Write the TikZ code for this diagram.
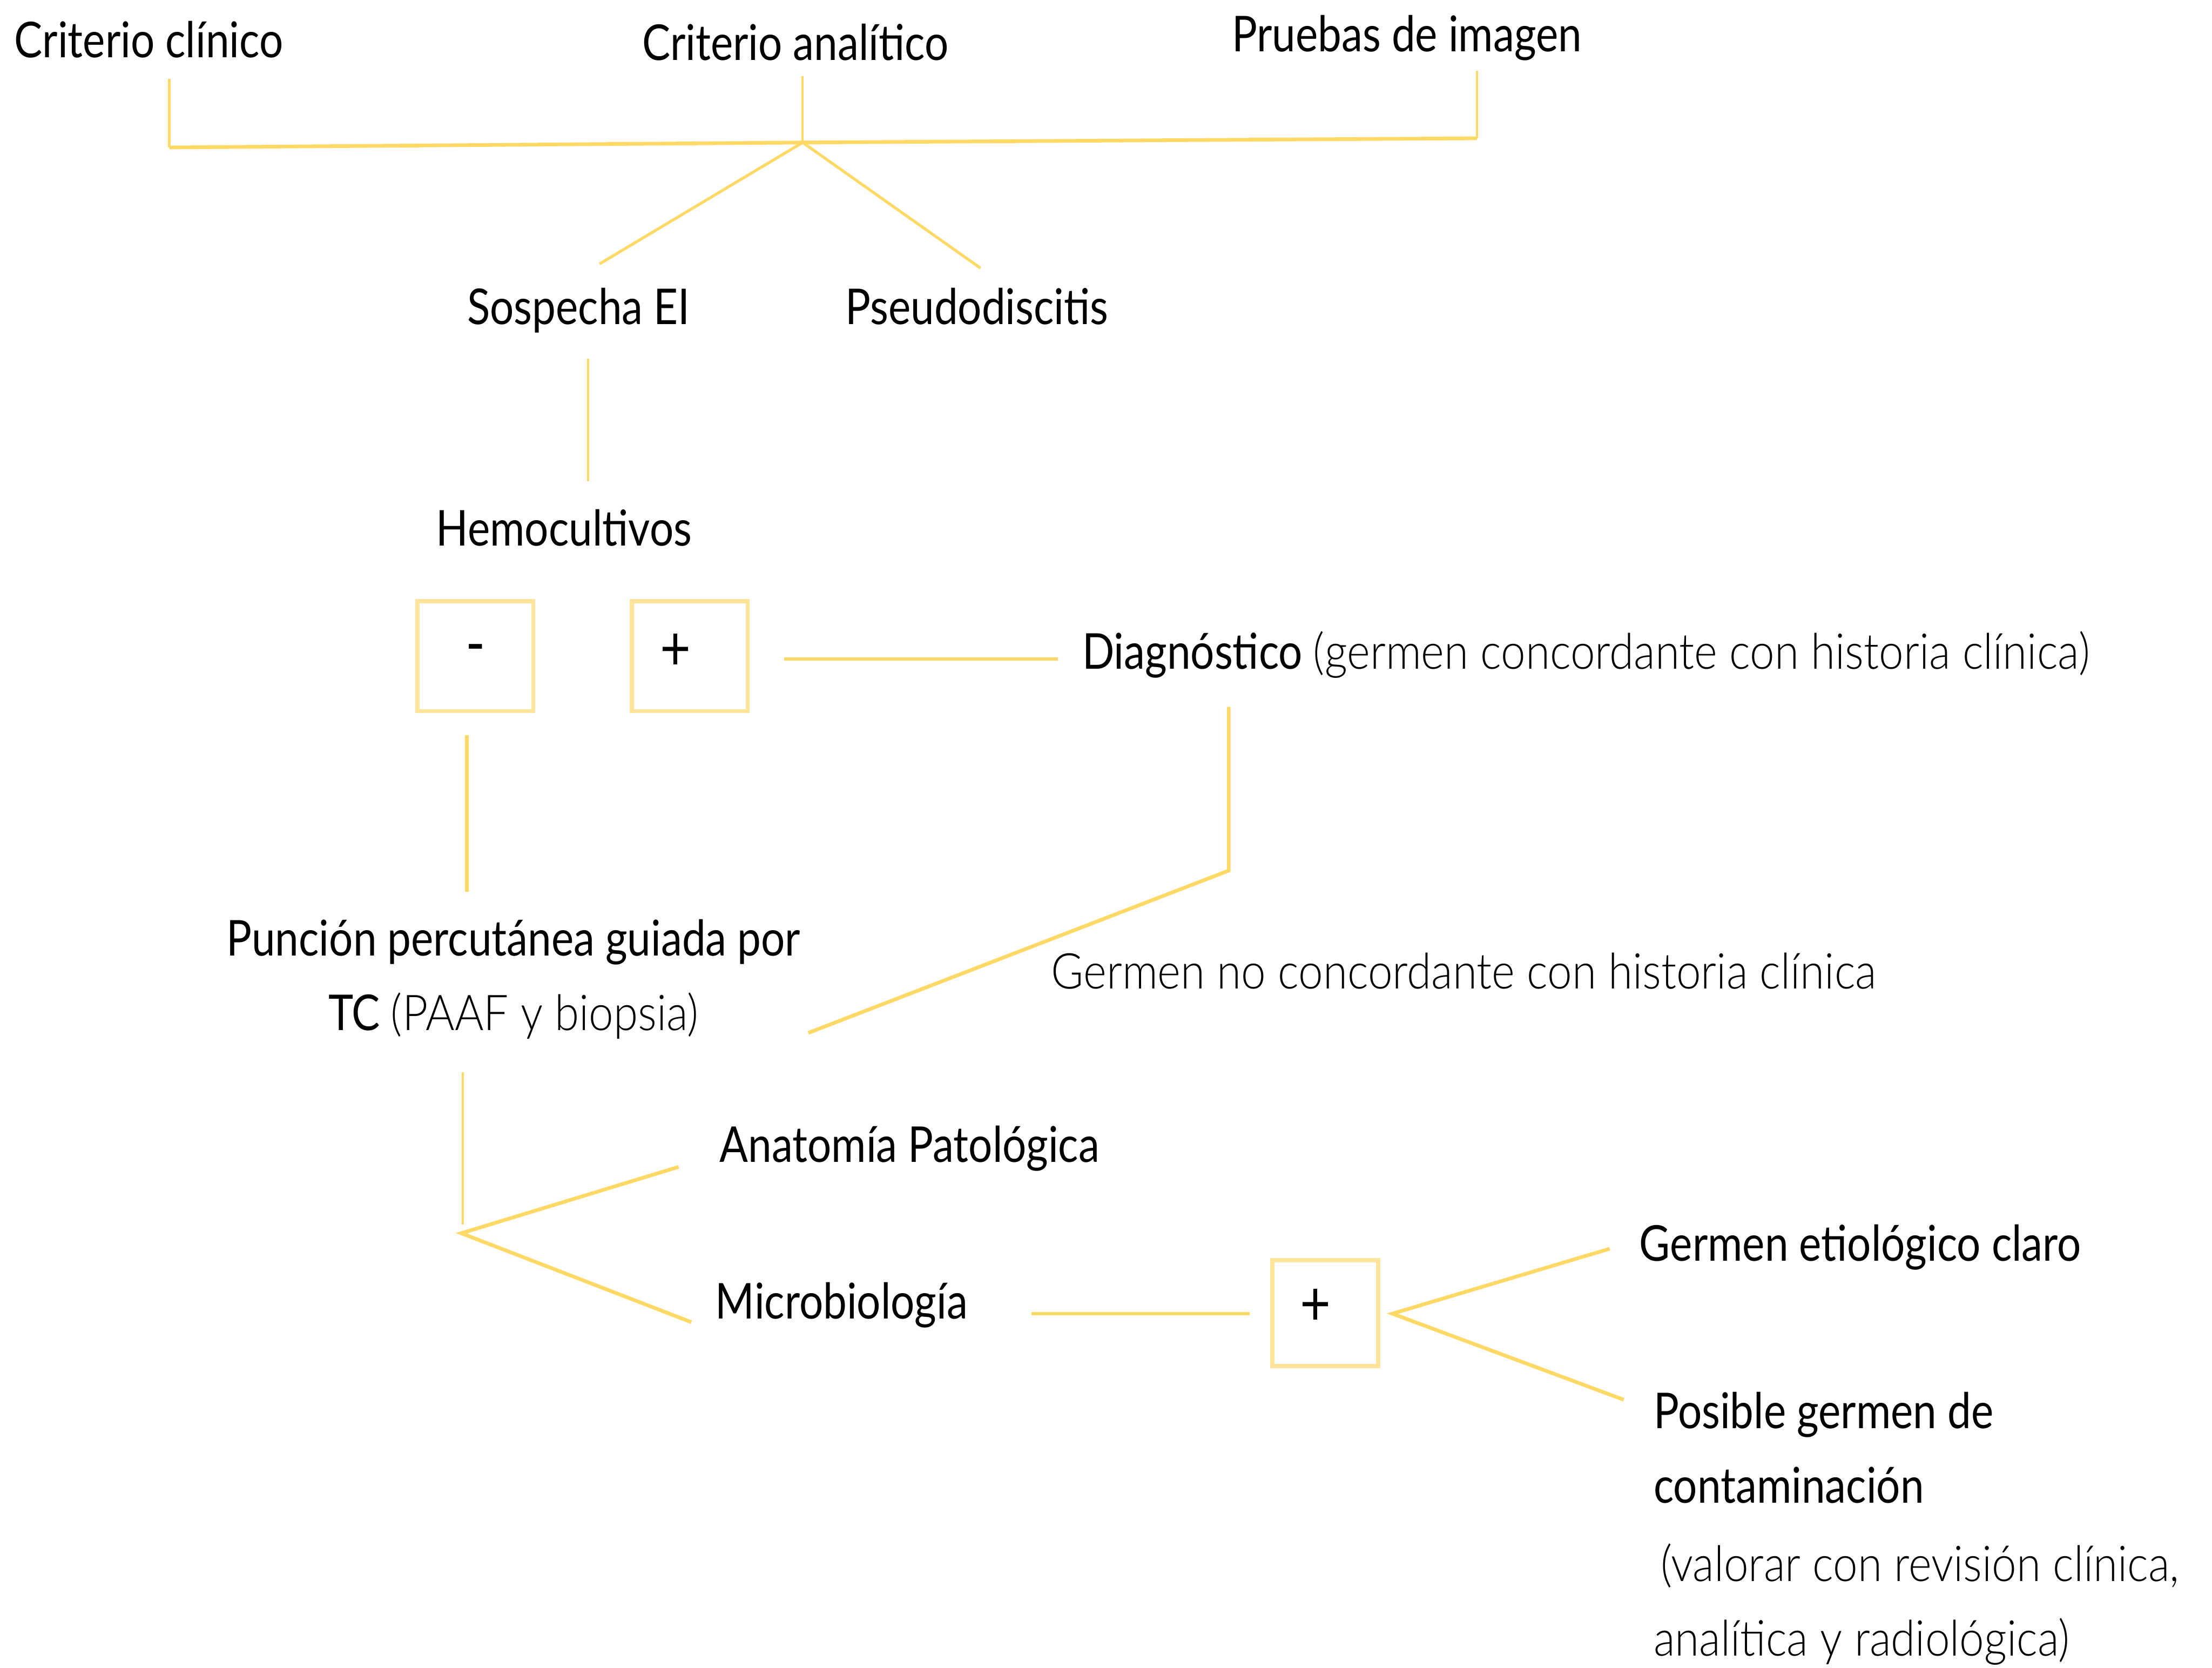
\documentclass[tikz,border=0pt]{standalone}
\usepackage{fontspec}
\setmainfont{Lato}[FakeStretch=0.855]
\newfontfamily\lightfont{Lato Light}[FakeStretch=0.895]
\definecolor{lineY}{HTML}{FFD966}
\definecolor{boxY}{HTML}{FFE599}
\begin{document}
\begin{tikzpicture}[x=1pt,y=-1pt,
  txt/.style={inner sep=0pt, anchor=west, font=\fontsize{35}{53}\selectfont},
  lt/.style={txt, font=\fontsize{35}{53}\selectfont\lightfont},
  ybox/.style={draw=boxY, line width=3pt, rectangle, inner sep=0pt, font=\fontsize{44}{53}\selectfont},
  ln/.style={draw=lineY, line width=2.6pt},
  thin/.style={draw=lineY, line width=1.6pt}]
\useasboundingbox (0,0) rectangle (1568,1182);
\fill[white] (0,0) rectangle (1568,1182);

% texts
\node[txt] (cc) at (10,28) {Criterio clínico};
\node[txt] (ca) at (455,30) {Criterio analítico};
\node[txt] (pi) at (873,27) {Pruebas de imagen};
\node[txt] (se) at (331,220) {Sospecha EI};
\node[txt] (ps) at (599,217) {Pseudodiscitis};
\node[txt] (hc) at (309,374) {Hemocultivos};
\node[ybox, minimum width=82pt, minimum height=78pt] (bneg) at (337,465) {\raisebox{2pt}{-}};
\node[ybox, minimum width=82pt, minimum height=78pt] (bpos) at (489,465) {\hspace*{-20pt}\raisebox{6pt}{+}};
\node[txt] (dg) at (767,464) {Diagnóstico {\lightfont (germen concordante con historia clínica)}};
\node[txt, anchor=center, align=center] (pp) at (364,694) {Punción percutánea guiada por\\TC {\lightfont (PAAF y biopsia)}};
\node[lt] (gn) at (745,688) {Germen no concordante con historia clínica};
\node[txt] (ap) at (510,814) {Anatomía Patológica};
\node[txt] (mb) at (507,925) {Microbiología};
\node[ybox, minimum width=75pt, minimum height=75pt] (bpos2) at (939.5,930.5) {\hspace*{-14pt}\raisebox{8pt}{+}};
\node[txt] (ge) at (1162,884) {Germen etiológico claro};
\node[txt, align=left] (pg) at (1172,1026) {Posible germen de\\contaminación};
\node[lt, align=left] (vr) at (1172,1137) {\hspace*{5pt}(valorar con revisión clínica,\\analítica y radiológica)};

% junction coordinates
\coordinate (ccA) at (120,56);
\coordinate (ccB) at (120,104.5);
\coordinate (caA) at (569,54);
\coordinate (caB) at (569,101);
\coordinate (piA) at (1047,50);
\coordinate (piB) at (1047,98);
\coordinate (seT) at (425,187);
\coordinate (psT) at (695,190);
\coordinate (seB) at (417,254);
\coordinate (hcT) at (417,341);
\coordinate (posR) at (556,467);
\coordinate (dgL) at (750,467);
\coordinate (dgB) at (871,501);
\coordinate (dgK) at (871,617);
\coordinate (ppR) at (573,732);
\coordinate (negB) at (331,521);
\coordinate (ppT) at (331,632);
\coordinate (ppB) at (328,760);
\coordinate (ppJ) at (328,868);
\coordinate (fork) at (327,874);
\coordinate (apL) at (481,827);
\coordinate (mbL) at (490,937);
\coordinate (mbR) at (731,931);
\coordinate (b2L) at (886,931);
\coordinate (fork2) at (987,931);
\coordinate (geL) at (1141,885);
\coordinate (pgL) at (1151,992);

% connectors
\draw[thin] (ccA) -- (ccB);
\draw[thin] (caA) -- (caB);
\draw[thin] (piA) -- (piB);
\draw[ln] (ccB) -- (caB) -- (piB);
\draw[ln, line width=2pt] (seT) -- (caB) -- (psT);
\draw[thin] (seB) -- (hcT);
\draw[ln] (posR) -- (dgL);
\draw[ln] (dgB) -- (dgK) -- (ppR);
\draw[ln] (negB) -- (ppT);
\draw[thin] (ppB) -- (ppJ);
\draw[ln] (apL) -- (fork) -- (mbL);
\draw[ln] (mbR) -- (b2L);
\draw[ln] (geL) -- (fork2) -- (pgL);
\end{tikzpicture}
\end{document}
